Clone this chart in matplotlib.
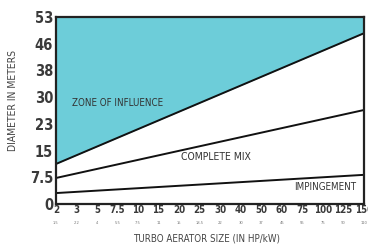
import numpy as np
import matplotlib
matplotlib.use("Agg")
import matplotlib.pyplot as plt
import matplotlib.transforms as mtransforms

plt.rcParams['font.family'] = ['DejaVu Sans']
plt.rcParams['font.stretch'] = 'condensed'

# aerator sizes (HP) and their kW equivalents
hp_labels = ["2", "3", "5", "7.5", "10", "15", "20", "25", "30", "40", "50", "60", "75", "100", "125", "150"]
kw_labels = ["1.5", "2.2", "4", "5.5", "7.5", "11", "15", "18.5", "22", "30", "37", "45", "55", "75", "90", "110"]

# y ticks (feet converted to meters)
y_ticks_ft = [0, 25, 50, 75, 100, 125, 150, 175]
y_tick_labels = ["0", "7.5", "15", "23", "30", "38", "46", "53"]

# boundary lines, read at the first and last aerator size
line_x = [0, 15]
influence = [11.4, 48.7]
complete_mix = [7.4, 26.8]
impingement = [3.1, 8.3]

ymax = 175 * 0.3048

fig = plt.figure(figsize=(3.68, 2.46), dpi=100)
ax = fig.add_axes([0.152, 0.171, 0.837, 0.760])

ax.fill_between(line_x, influence, ymax, color="#6dcdd9", lw=0)
ax.plot(line_x, influence, color="#111111", lw=1.4)
ax.plot(line_x, complete_mix, color="#111111", lw=1.4)
ax.plot(line_x, impingement, color="#111111", lw=1.4)

ax.set_xlim(0, 15)
ax.set_ylim(0, ymax)

ax.set_yticks([f * 0.3048 for f in y_ticks_ft])
ax.set_yticklabels(y_tick_labels, fontsize=10.5, color="#3a3a3a", fontweight="bold")
ax.set_xticks(range(len(hp_labels)))
ax.set_xticklabels(hp_labels, fontsize=7, color="#3a3a3a", fontweight="bold")
ax.tick_params(axis="both", length=0, pad=2)
ax.tick_params(axis="x", pad=1)

trans = mtransforms.blended_transform_factory(ax.transData, ax.transAxes)
for i, kw in enumerate(kw_labels):
    ax.text(i, -0.09, kw, transform=trans, fontsize=3, color="#777777",
            ha="center", va="top")

for s in ax.spines.values():
    s.set_linewidth(1.6)
    s.set_color("#222222")

ax.text(0.2, 0.54, "ZONE OF INFLUENCE", transform=ax.transAxes, fontsize=7,
        color="#333333", ha="center", va="center")
ax.text(0.52, 0.25, "COMPLETE MIX", transform=ax.transAxes, fontsize=7.5,
        color="#333333", ha="center", va="center")
ax.text(0.873, 0.088, "IMPINGEMENT", transform=ax.transAxes, fontsize=7,
        color="#333333", ha="center", va="center")

fig.text(0.035, 0.59, "DIAMETER IN METERS", rotation=90, fontsize=7.5,
         color="#444444", ha="center", va="center")
fig.text(0.56, 0.03, "TURBO AERATOR SIZE (IN HP/kW)", fontsize=7,
         color="#444444", ha="center", va="center")

fig.savefig("out.png", dpi=100)
